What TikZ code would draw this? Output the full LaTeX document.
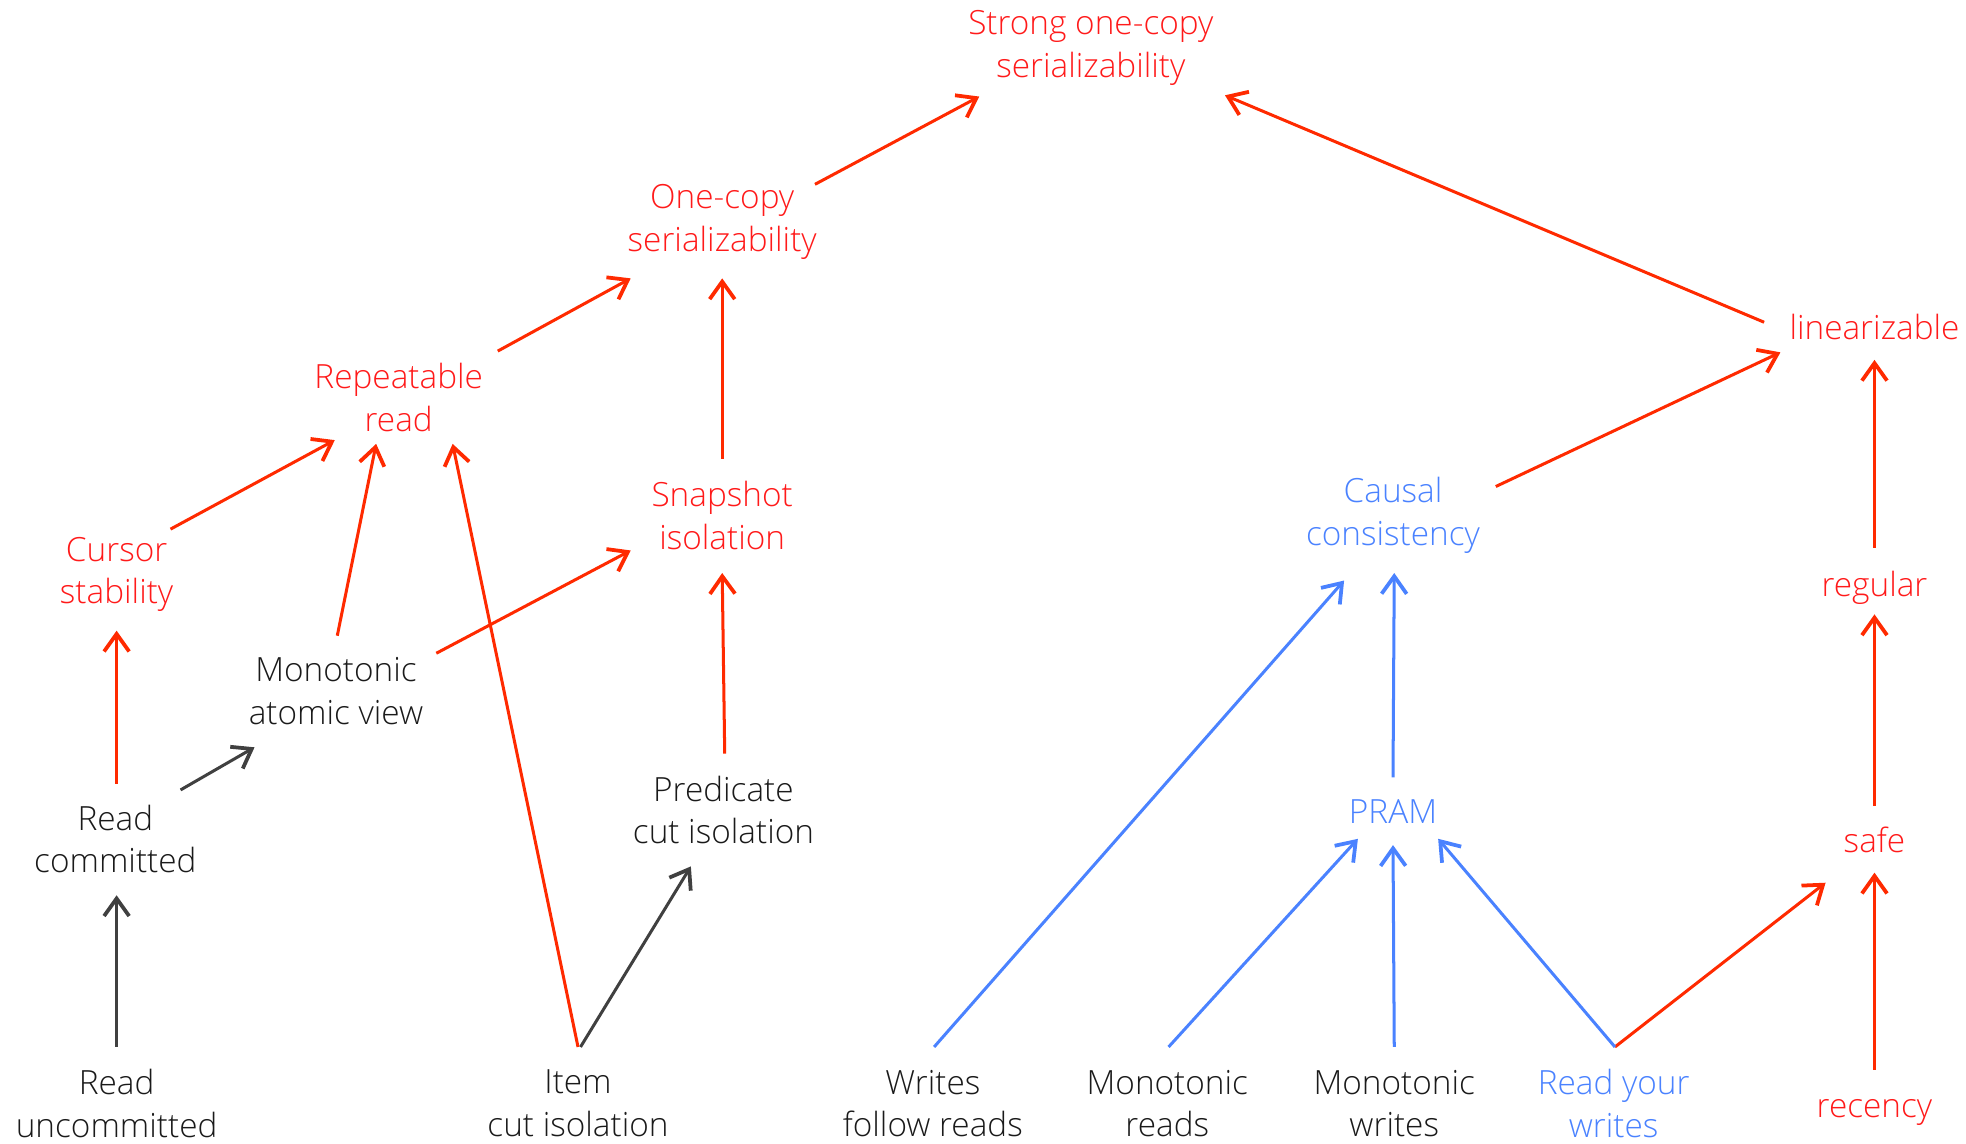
\documentclass[tikz,border=0pt]{standalone}
\usepackage{fontspec}
\setmainfont{Open Sans}[UprightFont={* Light}]
\usetikzlibrary{arrows.meta,calc}
\definecolor{cred}{HTML}{FF2A00}
\definecolor{tred}{HTML}{FF1A1A}
\definecolor{cblue}{HTML}{4A82FF}
\definecolor{cgray}{HTML}{404040}
\definecolor{tblack}{HTML}{1A1A1A}
\begin{document}
\begin{tikzpicture}[x=0.5pt,y=-0.5pt,
  lbl/.style={align=center,inner xsep=3pt,inner ysep=5pt,font=\fontsize{13.3}{17}\selectfont},
  rl/.style={lbl,text=tred},
  bl/.style={lbl,text=cblue},
  kl/.style={lbl,text=tblack},
  edge/.style={line width=1.2pt,-{Straight Barb[length=7pt,width=10pt,line width=1.5pt]}},
  redge/.style={edge,draw=cred},
  bedge/.style={edge,draw=cblue},
  kedge/.style={edge,draw=cgray}]
\useasboundingbox (0,0) rectangle (1568,912);
% nodes
\node[rl] (strong) at (870,38) {Strong one-copy\\serializability};
\node[rl] (onecopy) at (576,177) {One-copy\\serializability};
\node[rl] (rr) at (318,317) {Repeatable\\read};
\node[rl] (cs) at (93,458) {Cursor\\stability};
\node[rl] (si) at (576,411) {Snapshot\\isolation};
\node[kl] (mav) at (268,551) {Monotonic\\atomic view};
\node[kl] (rc) at (92,669) {Read\\committed};
\node[kl] (pci) at (577,646) {Predicate\\cut isolation};
\node[kl] (ru) at (93,880) {Read\\uncommitted};
\node[kl] (ici) at (461,880) {Item\\cut isolation};
\node[kl] (wfr) at (744,880) {Writes\\follow reads};
\node[kl] (mr) at (931,880) {Monotonic\\reads};
\node[kl] (mw) at (1112,880) {Monotonic\\writes};
\node[bl] (ryw) at (1287,880) {Read your\\writes};
\node[rl] (rec) at (1495,887) {recency};
\node[rl] (safe) at (1495,670) {safe};
\node[rl] (reg) at (1495,469) {regular};
\node[rl] (lin) at (1495,261) {linearizable};
\node[bl] (cc) at (1111,411) {Causal\\consistency};
\node[bl] (pram) at (1111,647) {PRAM};
% edges
\draw[redge] ($(onecopy)+(74,-30)$) -- ($(strong)+(-89,39)$);
\draw[redge] ($(rr)+(79,-37)$) -- ($(onecopy)+(-73,45)$);
\draw[redge] ($(si)+(0,-45)$) -- ($(onecopy)+(0,45)$);
\draw[redge] ($(cs)+(43,-36)$) -- ($(rr)+(-51,34)$);
\draw[redge] ($(mav)+(1,-44)$) -- ($(rr)+(-18,37)$);
\draw[redge] ($(ici)+(0,-45)$) -- ($(rr)+(43,37)$);
\draw[redge] ($(mav)+(80,-30)$) -- ($(si)+(-73,28)$);
\draw[redge] ($(pci)+(1,-45)$) -- ($(si)+(0,46)$);
\draw[redge] ($(rc)+(1,-44)$) -- ($(cs)+(0,45)$);
\draw[kedge] ($(rc)+(52,-39)$) -- ($(mav)+(-65,45)$);
\draw[kedge] ($(ru)+(0,-45)$) -- ($(rc)+(1,45)$);
\draw[kedge] ($(ici)+(2,-45)$) -- ($(pci)+(-26,45)$);
\draw[redge] ($(lin)+(-88,-4)$) -- ($(strong)+(107,38)$);
\draw[redge] ($(cc)+(82,-23)$) -- ($(lin)+(-75,20)$);
\draw[redge] ($(reg)+(0,-32)$) -- ($(lin)+(0,26)$);
\draw[redge] ($(safe)+(0,-27)$) -- ($(reg)+(0,21)$);
\draw[redge] ($(rec)+(0,-34)$) -- ($(safe)+(0,26)$);
\draw[redge] ($(ryw)+(1,-45)$) -- ($(safe)+(-39,34)$);
\draw[bedge] ($(ryw)+(1,-45)$) -- ($(pram)+(36,22)$);
\draw[bedge] ($(mw)+(0,-45)$) -- ($(pram)+(0,27)$);
\draw[bedge] ($(mr)+(1,-45)$) -- ($(pram)+(-28,22)$);
\draw[bedge] ($(pram)+(0,-27)$) -- ($(cc)+(1,46)$);
\draw[bedge] ($(wfr)+(1,-45)$) -- ($(cc)+(-39,52)$);
\end{tikzpicture}
\end{document}
